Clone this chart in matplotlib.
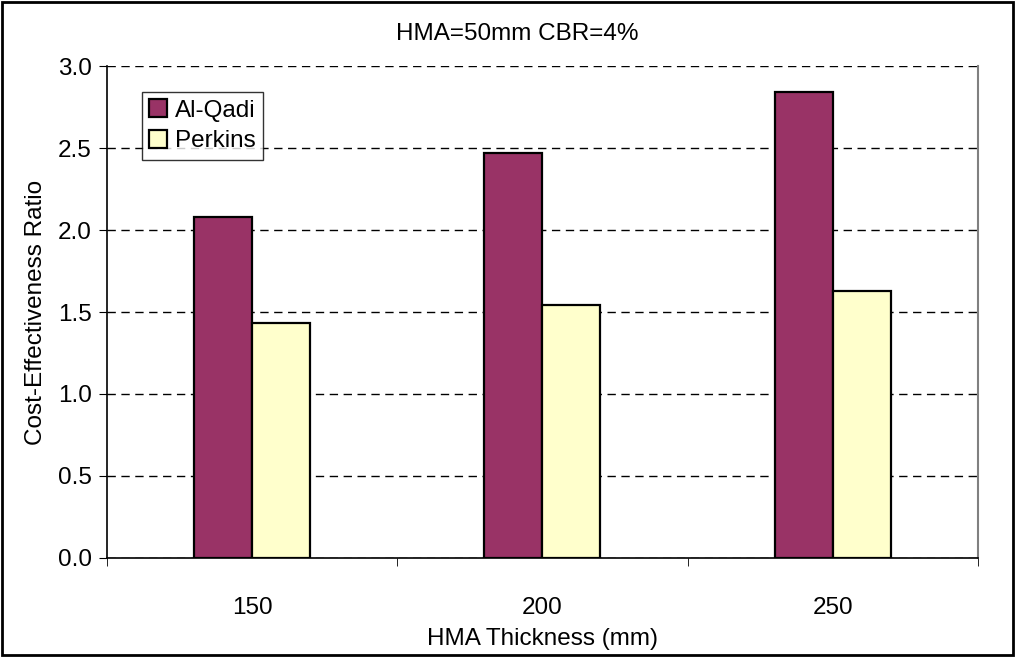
import numpy as np
import matplotlib
matplotlib.use("Agg")
import matplotlib.pyplot as plt

plt.rcParams['font.family'] = ['Liberation Sans', 'DejaVu Sans']

# data
thickness = ['150', '200', '250']
al_qadi = [2.08, 2.47, 2.845]
perkins = [1.435, 1.545, 1.63]
yticks = [0.0, 0.5, 1.0, 1.5, 2.0, 2.5, 3.0]

fs = 17.5

fig = plt.figure(figsize=(10.15, 6.57), dpi=100)
ax = fig.add_axes([0.1054, 0.151, 0.858, 0.748])

x = np.arange(len(thickness))
w = 0.2
ax.bar(x - w / 2, al_qadi, w, color='#993366', edgecolor='black', linewidth=1.6,
       label='Al-Qadi', zorder=3)
ax.bar(x + w / 2, perkins, w, color='#FFFFCC', edgecolor='black', linewidth=1.6,
       label='Perkins', zorder=3)

ax.set_xlim(-0.5, len(thickness) - 0.5)
ax.set_ylim(0, 3.0)
ax.set_yticks(yticks)
ax.set_yticklabels([f'{v:.1f}' for v in yticks], fontsize=fs)
ax.yaxis.grid(True, linestyle=(0, (6, 4)), color='black', linewidth=1, zorder=0)

ax.set_xticks(x)
ax.set_xticklabels(thickness, fontsize=fs)
ax.set_xticks(np.arange(-0.5, len(thickness), 1.0), minor=True)
ax.tick_params(axis='x', which='major', length=0, pad=28)
ax.tick_params(axis='x', which='minor', length=6, direction='out', color='black')
ax.tick_params(axis='y', length=6, direction='out', pad=5)

ax.spines['top'].set_visible(False)
ax.spines['right'].set_color('#808080')
ax.spines['right'].set_linewidth(1.5)
ax.spines['left'].set_linewidth(1.2)
ax.spines['bottom'].set_linewidth(1.2)

ax.set_xlabel('HMA Thickness (mm)', fontsize=fs, labelpad=7)
ax.set_ylabel('Cost-Effectiveness Ratio', fontsize=fs, labelpad=8)
fig.text(0.51, 0.949, 'HMA=50mm CBR=4%', ha='center', va='center', fontsize=fs)

leg = ax.legend(loc='upper left', bbox_to_anchor=(0.04, 0.948), fontsize=fs,
                frameon=True, fancybox=False, edgecolor='black',
                handlelength=0.75, handleheight=0.75, handletextpad=0.3,
                borderpad=0.3, labelspacing=0.35, borderaxespad=0)
leg.get_frame().set_linewidth(1)

# figure border
fig.patches.append(plt.Rectangle((0.002, 0.003), 0.996, 0.994, transform=fig.transFigure,
                                 fill=False, edgecolor='black', linewidth=2))

fig.savefig('out.png', dpi=100)
